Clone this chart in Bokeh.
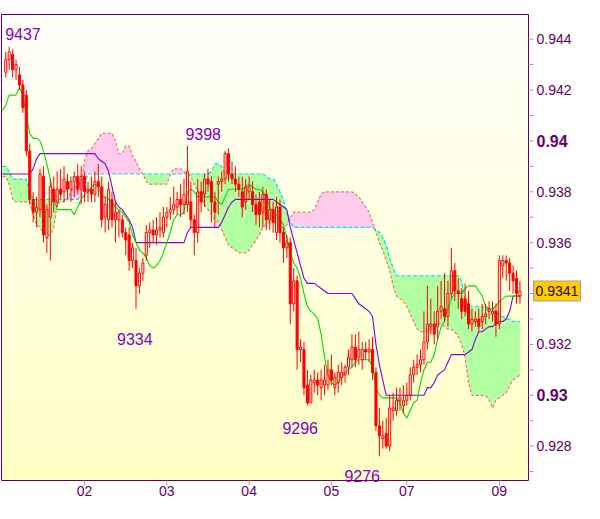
import numpy as np
from bokeh.plotting import figure
from bokeh.models import Range1d, ColumnDataSource
from bokeh.core.properties import value
from bokeh.embed import file_html
from bokeh.resources import INLINE

PIP = 10000.0

# ---- hourly candles (price x 10000) ----
opens = [
    9427, 9432, 9434, 9428, 9426, 9422, 9418, 9396, 9377, 9372,
    9373, 9386, 9362, 9370, 9381, 9376, 9381, 9380, 9384, 9381,
    9384, 9386, 9381, 9386, 9380, 9381, 9379, 9384, 9382, 9370,
    9369, 9377, 9369, 9369, 9369, 9364, 9363, 9353, 9353, 9343,
    9348, 9355, 9364, 9365, 9363, 9365, 9364, 9370, 9372, 9373,
    9374, 9377, 9375, 9375, 9376, 9369, 9364, 9380, 9379, 9385,
    9384, 9376, 9383, 9384, 9385, 9395, 9387, 9385, 9383, 9380,
    9376, 9380, 9380, 9375, 9376, 9372, 9379, 9369, 9373, 9364,
    9374, 9364, 9358, 9360, 9336, 9345, 9318, 9318, 9304, 9297,
    9305, 9306, 9303, 9304, 9304, 9310, 9303, 9305, 9307, 9308,
    9311, 9314, 9319, 9315, 9314, 9318, 9317, 9318, 9309, 9288,
    9283, 9285, 9280, 9294, 9294, 9298, 9296, 9298, 9300, 9308,
    9311, 9312, 9314, 9321, 9327, 9328, 9327, 9333, 9334, 9331,
    9340, 9349, 9341, 9338, 9338, 9336, 9328, 9329, 9330, 9329,
    9331, 9333, 9332, 9333, 9328, 9351, 9353, 9352, 9348, 9346,
    9339,
]
highs = [
    9435, 9437, 9436, 9432, 9429, 9424, 9420, 9399, 9380, 9378,
    9389, 9390, 9375, 9385, 9386, 9388, 9389, 9390, 9387, 9386,
    9388, 9391, 9390, 9388, 9384, 9386, 9388, 9391, 9386, 9378,
    9384, 9380, 9376, 9373, 9371, 9366, 9366, 9360, 9358, 9350,
    9354, 9367, 9368, 9369, 9370, 9372, 9374, 9374, 9378, 9382,
    9380, 9383, 9385, 9398, 9384, 9371, 9385, 9384, 9387, 9389,
    9386, 9380, 9386, 9388, 9396, 9397, 9392, 9390, 9386, 9386,
    9385, 9386, 9384, 9379, 9380, 9382, 9381, 9377, 9376, 9378,
    9377, 9366, 9363, 9362, 9350, 9347, 9322, 9321, 9310, 9308,
    9310, 9309, 9310, 9312, 9314, 9316, 9309, 9312, 9313, 9312,
    9318, 9324, 9324, 9325, 9321, 9321, 9322, 9323, 9311, 9295,
    9290, 9291, 9300, 9301, 9303, 9303, 9304, 9305, 9311, 9314,
    9316, 9318, 9333, 9343, 9338, 9333, 9343, 9345, 9348, 9345,
    9358, 9352, 9346, 9342, 9344, 9341, 9334, 9333, 9334, 9336,
    9336, 9337, 9337, 9336, 9355, 9355, 9355, 9354, 9351, 9349,
    9345,
]
lows = [
    9425, 9428, 9425, 9424, 9420, 9411, 9394, 9375, 9368, 9366,
    9370, 9360, 9356, 9353, 9372, 9374, 9377, 9376, 9377, 9376,
    9378, 9379, 9375, 9376, 9376, 9376, 9376, 9378, 9366, 9364,
    9365, 9366, 9360, 9362, 9362, 9355, 9349, 9350, 9334, 9340,
    9345, 9353, 9358, 9360, 9359, 9362, 9362, 9366, 9369, 9371,
    9371, 9370, 9371, 9372, 9366, 9355, 9360, 9372, 9374, 9380,
    9368, 9366, 9371, 9380, 9383, 9384, 9383, 9380, 9378, 9370,
    9373, 9377, 9372, 9367, 9366, 9366, 9365, 9365, 9364, 9361,
    9360, 9352, 9354, 9328, 9333, 9310, 9313, 9300, 9296, 9297,
    9301, 9300, 9298, 9300, 9302, 9304, 9300, 9301, 9304, 9305,
    9308, 9311, 9311, 9312, 9310, 9314, 9313, 9306, 9286, 9276,
    9279, 9279, 9278, 9290, 9292, 9294, 9293, 9296, 9298, 9305,
    9308, 9309, 9312, 9318, 9324, 9320, 9322, 9330, 9329, 9327,
    9338, 9337, 9334, 9330, 9331, 9326, 9325, 9327, 9325, 9326,
    9328, 9330, 9329, 9323, 9326, 9346, 9345, 9341, 9340, 9336,
    9336,
]
closes = [
    9432, 9435, 9428, 9430, 9422, 9413, 9396, 9377, 9372, 9374,
    9387, 9363, 9373, 9382, 9376, 9381, 9379, 9385, 9381, 9384,
    9386, 9381, 9386, 9380, 9381, 9379, 9384, 9382, 9369, 9375,
    9381, 9369, 9372, 9372, 9364, 9361, 9353, 9358, 9343, 9348,
    9352, 9364, 9365, 9363, 9365, 9366, 9370, 9372, 9373, 9375,
    9377, 9375, 9379, 9388, 9369, 9364, 9380, 9376, 9385, 9383,
    9376, 9372, 9384, 9385, 9395, 9387, 9385, 9383, 9381, 9374,
    9382, 9382, 9375, 9371, 9371, 9379, 9369, 9373, 9368, 9374,
    9364, 9358, 9360, 9336, 9345, 9318, 9319, 9303, 9297, 9306,
    9306, 9304, 9306, 9306, 9310, 9306, 9307, 9309, 9309, 9311,
    9315, 9319, 9314, 9318, 9318, 9317, 9318, 9309, 9288, 9284,
    9284, 9280, 9295, 9295, 9298, 9299, 9298, 9300, 9308, 9311,
    9312, 9314, 9321, 9328, 9328, 9324, 9333, 9335, 9331, 9340,
    9349, 9341, 9340, 9333, 9333, 9328, 9330, 9330, 9327, 9331,
    9332, 9334, 9333, 9328, 9353, 9353, 9352, 9348, 9345, 9340,
    9341,
]

# ---- Ichimoku lines, bar -1 .. 150 (price x 10000) ----
tenkan = [9412,
    9414, 9418, 9418, 9418, 9421, 9418, 9410, 9403, 9401, 9401,
    9400, 9396, 9391, 9385, 9378, 9373, 9373, 9373, 9373, 9373,
    9371, 9374, 9377, 9379, 9380, 9382, 9383, 9382, 9378, 9378,
    9377, 9376, 9374, 9373, 9372, 9370, 9368, 9363, 9360, 9357,
    9356, 9354, 9351, 9350, 9351, 9353, 9356, 9360, 9364, 9369,
    9371, 9371, 9372, 9380, 9381, 9380, 9378, 9378, 9378, 9378,
    9378, 9378, 9376, 9375, 9378, 9381, 9381, 9381, 9381, 9381,
    9382, 9383, 9382, 9381, 9381, 9380, 9378, 9374, 9372, 9371,
    9369, 9367, 9362, 9356, 9352, 9350, 9346, 9340, 9335, 9333,
    9332, 9330, 9324, 9315, 9308, 9305, 9304, 9305, 9307, 9309,
    9310, 9311, 9313, 9314, 9314, 9314, 9314, 9311, 9303, 9300,
    9299, 9299, 9299, 9299, 9299, 9297, 9293, 9291, 9294, 9297,
    9298, 9305, 9310, 9313, 9313, 9316, 9322, 9327, 9329, 9334,
    9338, 9340, 9340, 9340, 9342, 9343, 9343, 9343, 9341, 9339,
    9335, 9334, 9334, 9335, 9337, 9338, 9339, 9339, 9339, 9339,
    9339]
kijun = [9387,
    9387, 9387, 9387, 9387, 9387, 9387, 9387, 9387, 9389, 9393,
    9395, 9395, 9395, 9395, 9395, 9395, 9395, 9395, 9395, 9395,
    9395, 9395, 9395, 9395, 9395, 9395, 9395, 9393, 9392, 9391,
    9388, 9382, 9376, 9374, 9373, 9371, 9369, 9366, 9360, 9360,
    9360, 9360, 9360, 9360, 9360, 9360, 9360, 9360, 9360, 9360,
    9360, 9360, 9360, 9364, 9366, 9366, 9366, 9366, 9366, 9366,
    9366, 9366, 9366, 9368, 9371, 9374, 9376, 9377, 9377, 9377,
    9377, 9377, 9377, 9377, 9377, 9377, 9377, 9377, 9377, 9376,
    9375, 9374, 9373, 9366, 9361, 9356, 9351, 9346, 9344, 9344,
    9344, 9343, 9342, 9341, 9340, 9340, 9340, 9340, 9340, 9340,
    9340, 9340, 9338, 9336, 9335, 9334, 9333, 9331, 9320, 9312,
    9306, 9300, 9300, 9300, 9300, 9300, 9300, 9300, 9300, 9300,
    9300, 9300, 9300, 9303, 9303, 9305, 9308, 9309, 9310, 9313,
    9316, 9316, 9316, 9316, 9316, 9317, 9318, 9322, 9325, 9325,
    9326, 9327, 9327, 9328, 9329, 9329, 9330, 9333, 9339, 9339,
    9339]
span_a = [9390,
    9390, 9388, 9385, 9385, 9385, 9385, 9385, 9380, 9377, 9377,
    9377, 9377, 9377, 9377, 9377, 9377, 9377, 9377, 9377, 9377,
    9377, 9377, 9378, 9383, 9387, 9387, 9387, 9387, 9387, 9387,
    9387, 9387, 9387, 9387, 9387, 9387, 9387, 9387, 9387, 9387,
    9387, 9387, 9387, 9387, 9387, 9387, 9387, 9387, 9387, 9387,
    9387, 9387, 9387, 9387, 9387, 9387, 9387, 9387, 9387, 9387,
    9388, 9391, 9391, 9390, 9387, 9387, 9387, 9387, 9387, 9387,
    9387, 9387, 9387, 9387, 9387, 9387, 9386, 9385, 9385, 9383,
    9380, 9377, 9372, 9368, 9366, 9366, 9366, 9366, 9366, 9366,
    9366, 9366, 9366, 9366, 9366, 9366, 9366, 9366, 9366, 9366,
    9366, 9366, 9366, 9366, 9366, 9366, 9366, 9366, 9365, 9364,
    9362, 9359, 9354, 9350, 9347, 9347, 9347, 9347, 9347, 9347,
    9347, 9347, 9347, 9347, 9347, 9347, 9347, 9347, 9347, 9347,
    9347, 9347, 9347, 9345, 9338, 9335, 9335, 9335, 9335, 9335,
    9334, 9334, 9334, 9333, 9332, 9331, 9330, 9330, 9329, 9329,
    9329]
span_b = [9386,
    9386, 9383, 9377, 9376, 9376, 9376, 9376, 9376, 9371, 9367,
    9366, 9364, 9363, 9363, 9366, 9375, 9376, 9376, 9377, 9380,
    9382, 9382, 9384, 9392, 9396, 9397, 9399, 9401, 9403, 9403,
    9403, 9403, 9400, 9395, 9395, 9398, 9398, 9394, 9392, 9389,
    9387, 9384, 9383, 9383, 9383, 9383, 9383, 9383, 9387, 9389,
    9389, 9389, 9388, 9387, 9386, 9383, 9380, 9378, 9375, 9373,
    9371, 9369, 9368, 9365, 9362, 9359, 9358, 9357, 9356, 9356,
    9356, 9357, 9359, 9361, 9363, 9366, 9367, 9368, 9368, 9367,
    9366, 9366, 9367, 9370, 9372, 9372, 9372, 9372, 9372, 9372,
    9373, 9376, 9379, 9380, 9380, 9380, 9380, 9380, 9380, 9380,
    9380, 9380, 9379, 9378, 9376, 9374, 9372, 9368, 9364, 9360,
    9357, 9353, 9349, 9343, 9339, 9338, 9337, 9335, 9332, 9329,
    9326, 9325, 9325, 9325, 9326, 9327, 9328, 9328, 9327, 9326,
    9326, 9325, 9323, 9320, 9315, 9305, 9300, 9300, 9300, 9300,
    9300, 9298, 9295, 9298, 9299, 9300, 9301, 9304, 9306, 9307,
    9308]

# ---- axes / annotations ----
day_ticks = [23, 47, 71, 95, 117, 144]
day_labels = ["02", "03", "04", "05", "07", "09"]
price_ticks = [0.928, 0.930, 0.932, 0.934, 0.936, 0.938, 0.940, 0.942, 0.944]
price_labels = ["0.928", "0.93", "0.932", "", "0.936", "0.938", "0.94", "0.942", "0.944"]
price_bold = [False, True, False, False, False, False, True, False, False]
price_minor = [0.927, 0.929, 0.931, 0.933, 0.935, 0.937, 0.939, 0.941, 0.943]
swing_bars = [1, 53, 38, 88, 109]
swing_kind = ["high", "high", "low", "low", "low"]
last_price = 0.9341

# ---- geometry / styling ----
W, H = 584, 503               # canvas
PL, PR = 1, 528               # chart box (canvas px, x)
PT, PB = 14, 480              # chart box (canvas px, y from top)
X0, X1 = -1.24, 152.5         # chart box in bar units
Y0, Y1 = 0.92665, 0.94497     # chart box in price units
TXT = "#660066"
FONT = "Liberation Sans"
TICK_GREY = "#A0A0A0"

pxx = (PR - PL) / (X1 - X0)
pxy = (PB - PT) / (Y1 - Y0)
xr = Range1d(X0 - PL / pxx, X1 + (W - PR) / pxx)
yr = Range1d(Y0 - (H - PB) / pxy, Y1 + PT / pxy)

o = np.array(opens) / PIP
h = np.array(highs) / PIP
l = np.array(lows) / PIP
c = np.array(closes) / PIP
idx = np.arange(len(o))
lidx = np.arange(-1, len(tenkan) - 1)
ta = np.array(tenkan) / PIP
kj = np.array(kijun) / PIP
sa = np.array(span_a) / PIP
sb = np.array(span_b) / PIP

p = figure(width=W, height=H, output_backend="svg", toolbar_location=None,
           x_range=xr, y_range=yr, x_axis_location=None, y_axis_location=None,
           min_border_left=0, min_border_top=0, min_border_right=0, min_border_bottom=0,
           background_fill_color="white", border_fill_color="white")
p.xgrid.visible = False
p.ygrid.visible = False
p.outline_line_color = None

# gradient chart background (bottom yellow -> top almost white)
n = 64
img = np.empty((n, 1), dtype=np.uint32)
view = img.view(dtype=np.uint8).reshape((n, 1, 4))
view[:, 0, 0] = 255
view[:, 0, 1] = 255
view[:, 0, 2] = np.linspace(198, 250, n).astype(np.uint8)
view[:, 0, 3] = 255
p.image_rgba(image=[img], x=X0, y=Y0, dw=X1 - X0, dh=Y1 - Y0)

# cloud
top = np.maximum(sa, sb)
p.varea(x=lidx, y1=sb, y2=top, fill_color="#B2FFA2")
p.varea(x=lidx, y1=sa, y2=top, fill_color="#FFCCEE")
p.line(lidx, sb, line_color="#FF6E6E", line_width=1.2, line_dash="3 2")
p.line(lidx, sa, line_color="#00E0F0", line_width=1.2, line_dash="4 2")
p.line(lidx, kj, line_color="#8A00D0", line_width=1.1)
p.line(lidx, ta, line_color="#00DD00", line_width=1.1)

# candles
body_top = np.maximum(o, c)
body_bot = np.minimum(o, c)
p.segment(idx, h, idx, body_top, line_color="red", line_width=1)
p.segment(idx, body_bot, idx, l, line_color="red", line_width=1)
up = c >= o
p.vbar(x=idx[up], bottom=o[up], top=c[up], width=0.6, fill_color=None,
       line_color="red", line_width=1)
p.vbar(x=idx[~up], bottom=c[~up], top=o[~up], width=0.6, fill_color="red",
       line_color="red", line_width=1)

# swing labels
sw_y = [h[i] if k == "high" else l[i] for i, k in zip(swing_bars, swing_kind)]
sw_t = [str(highs[i]) if k == "high" else str(lows[i]) for i, k in zip(swing_bars, swing_kind)]
src = ColumnDataSource(dict(x=swing_bars, y=sw_y, t=sw_t,
                            xo=[-4, -2, -19, -25, -35], yo=[-13, -12, 30, 23, 20]))
p.text(x="x", y="y", text="t", x_offset="xo", y_offset="yo", source=src,
       text_font=value(FONT), text_font_size="16px", text_color="#8000C8",
       text_baseline="alphabetic", text_align="left")

# chart frame
p.quad(left=[X0], right=[X1], bottom=[Y0], top=[Y1], fill_color=None,
       line_color=TXT, line_width=1)

# price scale (right)
all_ticks = price_ticks + price_minor
tick_len = 5 / pxx
p.segment(x0=[X1] * len(all_ticks), y0=all_ticks, x1=[X1 + tick_len] * len(all_ticks),
          y1=all_ticks, line_color=TICK_GREY, line_width=1)
norm = [(t, s) for t, s, b in zip(price_ticks, price_labels, price_bold) if s and not b]
bold = [(t, s) for t, s, b in zip(price_ticks, price_labels, price_bold) if s and b]
p.text(x=[X1] * len(norm), y=[t for t, _ in norm], text=[s for _, s in norm],
       x_offset=8, text_font=value(FONT), text_font_size="14px", text_color=TXT,
       text_baseline="middle", text_align="left")
p.text(x=[X1] * len(bold), y=[t for t, _ in bold], text=[s for _, s in bold],
       x_offset=8, text_font=value(FONT), text_font_size="16px", text_font_style="bold",
       text_color=TXT, text_baseline="middle", text_align="left")

# last price marker
p.quad(left=[X1 + 5 / pxx], right=[X1 + 52 / pxx],
       bottom=[last_price - 10 / pxy], top=[last_price + 10 / pxy],
       fill_color="#FFCC00", line_color="#9AA0A8", line_width=1)
p.text(x=[X1], y=[last_price], text=[f"{last_price:.4f}"], x_offset=7,
       text_font=value(FONT), text_font_size="14px", text_color="#330033",
       text_baseline="middle", text_align="left")

# time scale (bottom)
p.segment(x0=day_ticks, y0=[Y0] * len(day_ticks), x1=day_ticks,
          y1=[Y0 - 5 / pxy] * len(day_ticks), line_color=TICK_GREY, line_width=1)
p.text(x=day_ticks, y=[Y0] * len(day_ticks), text=day_labels, y_offset=5,
       text_font=value(FONT), text_font_size="14px", text_color=TXT,
       text_baseline="top", text_align="center")

open("out.html", "w").write(file_html(p, INLINE))
